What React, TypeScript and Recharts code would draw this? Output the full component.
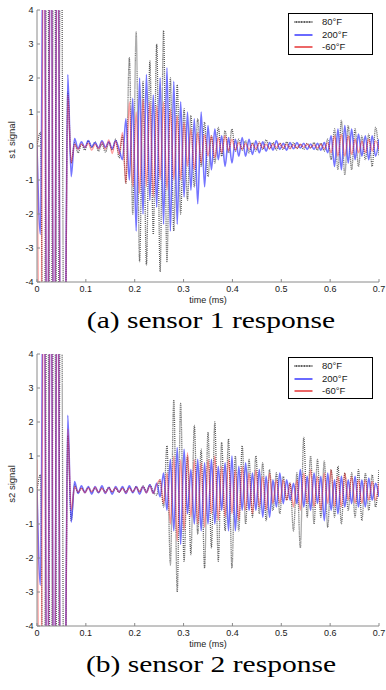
import React from 'react';
import { LineChart, Line, XAxis, YAxis, Legend, Label } from 'recharts';

// time axis (ms), one sample per half cycle
const TIME = [
  0, 0.007, 0.014, 0.021, 0.028, 0.035, 0.042, 0.049, 0.056, 0.063,
  0.07, 0.077, 0.084, 0.091, 0.098, 0.105, 0.112, 0.119, 0.126, 0.133,
  0.14, 0.147, 0.154, 0.161, 0.168, 0.175, 0.182, 0.189, 0.196, 0.203,
  0.21, 0.217, 0.224, 0.231, 0.238, 0.245, 0.252, 0.259, 0.266, 0.273,
  0.28, 0.287, 0.294, 0.301, 0.308, 0.315, 0.322, 0.329, 0.336, 0.343,
  0.35, 0.357, 0.364, 0.371, 0.378, 0.385, 0.392, 0.399, 0.406, 0.413,
  0.42, 0.427, 0.434, 0.441, 0.448, 0.455, 0.462, 0.469, 0.476, 0.483,
  0.49, 0.497, 0.504, 0.511, 0.518, 0.525, 0.532, 0.539, 0.546, 0.553,
  0.56, 0.567, 0.574, 0.581, 0.588, 0.595, 0.602, 0.609, 0.616, 0.623,
  0.63, 0.637, 0.644, 0.651, 0.658, 0.665, 0.672, 0.679, 0.686, 0.693,
  0.7,
];

// sensor 1
const S1_80F = [
  0, 0.4, -9, 9, -9, 9, -9, 9, -9, 1.6,
  -0.5, 0.1, -0.2, 0.05, -0.12, 0.15, -0.05, 0.12, -0.15, 0.06,
  -0.18, 0.1, -0.12, 0.2, -0.35, 0.3, -1.1, 2.6, -2.0, 3.35,
  -3.4, 1.9, -3.5, 2.5, -2.6, 3.0, -3.7, 3.4, -3.4, 2.0,
  -2.5, 1.8, -2.0, 1.1, -1.6, 0.9, -1.2, 0.8, -0.6, 0.7,
  -0.9, 0.3, -0.5, 0.55, -0.3, 0.45, -0.2, 0.5, -0.15, 0.2,
  -0.12, 0.15, -0.2, 0.1, -0.15, 0.12, -0.1, 0.18, -0.08, 0.1,
  -0.12, 0.08, -0.1, 0.12, -0.06, 0.1, -0.08, 0.05, -0.1, 0.08,
  -0.06, 0.1, -0.12, 0.08, -0.15, 0.2, -0.4, 0.5, -0.7, 0.75,
  -0.85, 0.6, -0.7, 0.5, -0.6, 0.3, -0.4, 0.35, -0.6, 0.55,
  -0.3,
];
const S1_200F = [
  0, -2.6, 9, -9, 9, -9, 9, -9, -9, 2.1,
  -0.9, 0.22, -0.08, 0.12, -0.05, 0.16, -0.02, 0.1, -0.06, 0.15,
  -0.04, 0.12, -0.08, 0.16, -0.1, -0.4, 0.8, -1.0, 1.4, -2.5,
  2.0, -2.0, 2.1, -1.6, 1.5, -1.8, 2.0, -2.3, 2.3, -2.5,
  1.9, -2.3, 1.3, -1.5, 1.0, -1.3, 0.8, -1.7, 1.0, -1.2,
  0.6, -0.7, 0.5, -0.4, 0.3, -0.6, 0.25, -0.5, 0.2, -0.3,
  0.25, -0.3, 0.2, -0.25, 0.15, -0.2, 0.12, -0.15, 0.1, -0.12,
  0.15, -0.1, 0.08, -0.12, 0.1, -0.08, 0.1, -0.06, 0.08, -0.1,
  0.06, -0.1, 0.08, -0.12, 0.1, -0.2, 0.3, -0.6, 0.5, -0.7,
  0.6, -0.5, 0.5, -0.4, 0.35, -0.3, 0.3, -0.4, 0.3, -0.3,
  0.2,
];
const S1_M60F = [
  0.9, -9, 9, -9, 9, -9, 9, -9, -9, 1.5,
  -0.5, 0.05, -0.1, 0.06, -0.04, 0.08, -0.12, 0.05, -0.08, 0.12,
  -0.1, 0.18, -0.22, 0.15, -0.25, 0.4, -1.1, 1.3, -1.2, 1.0,
  -1.4, 1.4, -1.2, 1.3, -1.5, 1.2, -1.0, 1.3, -1.3, 1.1,
  -1.0, 0.9, -1.0, 0.7, -0.6, 0.5, -0.7, 0.4, -0.5, 0.35,
  -0.3, 0.3, -0.35, 0.25, -0.2, 0.3, -0.15, 0.2, -0.12, 0.1,
  -0.1, 0.08, -0.1, 0.06, -0.08, 0.1, -0.06, 0.05, -0.08, 0.06,
  -0.05, 0.08, -0.06, 0.05, -0.08, 0.04, -0.06, 0.05, -0.04, 0.06,
  -0.05, 0.04, -0.06, 0.05, -0.08, 0.1, -0.2, 0.3, -0.3, 0.35,
  -0.3, 0.3, -0.25, 0.2, -0.2, 0.15, -0.2, 0.2, -0.15, 0.15,
  -0.1,
];

// sensor 2
const S2_80F = [
  0, 0.45, -9, 9, -9, 9, -9, 9, -9, 1.6,
  -0.9, 0.15, -0.08, 0.06, -0.05, 0.08, -0.06, 0.05, -0.08, 0.06,
  -0.05, 0.08, -0.06, 0.05, -0.07, 0.06, -0.05, 0.08, -0.06, 0.1,
  -0.05, 0.12, -0.04, 0.15, -0.05, -0.15, 0.3, -0.5, 1.3, -2.2,
  2.65, -3.0, 2.55, -2.1, 1.0, -1.9, 1.9, -1.3, 1.2, -2.3,
  1.7, -1.7, 2.0, -2.1, 1.4, -1.2, 1.5, -2.3, 1.0, -1.2,
  1.3, -1.0, 0.9, -0.8, 1.0, -0.7, 0.8, -0.9, 0.6, -0.6,
  0.5, -0.7, 0.4, -0.3, 0.2, -1.2, 0.5, -1.7, 1.55, -0.8,
  1.0, -1.0, 0.9, -0.8, 0.85, -1.1, 0.6, -0.8, 0.7, -1.0,
  0.5, -0.6, 0.5, -0.8, 0.6, -0.9, 0.5, -0.6, 0.45, -0.5,
  0.6,
];
const S2_200F = [
  0, -2.8, 9, -9, 9, -9, 9, -9, -9, 2.2,
  -0.95, 0.25, -0.1, 0.12, -0.08, 0.1, -0.12, 0.1, -0.08, 0.12,
  -0.1, 0.08, -0.12, 0.1, -0.06, 0.1, -0.1, 0.12, -0.08, 0.1,
  -0.12, 0.1, -0.08, 0.15, -0.1, 0.2, -0.2, 0.5, -0.6, 0.9,
  -1.2, 1.25, -1.6, 1.2, -0.7, 0.6, -1.0, 0.9, -1.2, 0.8,
  -1.0, 0.9, -1.0, 0.7, -0.6, 0.8, -1.2, 1.0, -1.2, 0.7,
  -0.6, 0.8, -0.6, 0.5, -0.6, 0.6, -0.8, 0.4, -0.8, 0.3,
  -0.5, 0.5, -0.4, 0.3, -0.3, 0.2, -0.4, 0.6, -0.5, 0.4,
  -0.6, 0.5, -0.4, 0.4, -0.9, 0.5, -0.6, 0.3, -0.7, 0.4,
  -0.5, 0.3, -0.4, 0.4, -0.5, 0.3, -0.5, 0.35, -0.3, 0.2,
  -0.2,
];
const S2_M60F = [
  0.9, -9, 9, -9, 9, -9, 9, -9, -9, 1.8,
  -0.6, 0.1, -0.06, 0.05, -0.08, 0.06, -0.05, 0.08, -0.06, 0.05,
  -0.08, 0.06, -0.05, 0.07, -0.06, 0.05, -0.08, 0.06, -0.05, 0.08,
  -0.06, 0.1, -0.08, 0.12, -0.1, 0.15, 0.3, -0.4, 0.5, -1.0,
  1.0, -1.5, 0.9, -1.2, 1.1, -0.8, 0.9, -1.0, 0.8, -1.1,
  0.9, -0.7, 1.0, -0.9, 0.7, -0.8, 0.9, -0.7, 0.6, -0.9,
  0.7, -0.6, 0.5, -0.7, 0.6, -0.5, 0.4, -0.6, 0.5, -0.4,
  0.3, -0.4, 0.3, -0.3, 0.2, -0.5, 0.3, -0.6, 0.5, -0.4,
  0.6, -0.5, 0.4, -0.6, 0.5, -0.4, 0.6, -0.5, 0.4, -0.5,
  0.5, -0.3, 0.4, -0.4, 0.3, -0.4, 0.3, -0.3, 0.25, -0.3,
  0.2,
];

const X_TICKS = [0, 0.1, 0.2, 0.3, 0.4, 0.5, 0.6, 0.7];
const Y_TICKS = [-4, -3, -2, -1, 0, 1, 2, 3, 4];
const SERIES_NAMES = ['80°F', '200°F', '-60°F'];

const AXIS_GRAY = '#8a8a8a';
const TEXT = '#1a1a1a';
const SANS = '"Liberation Sans", Arial, Helvetica, sans-serif';

const LINE_STYLES = [
  { stroke: '#333', strokeWidth: 1.3, strokeDasharray: '1 1', strokeOpacity: 0.8 },
  { stroke: '#3b3bff', strokeWidth: 1.6, strokeOpacity: 0.7 },
  { stroke: '#ff2020', strokeWidth: 1.4, strokeOpacity: 0.42 },
];
const LEGEND_STYLES = [
  { stroke: '#111', strokeWidth: 1.5, strokeDasharray: '1 0.6' },
  { stroke: '#6a6aff', strokeWidth: 2 },
  { stroke: '#e00000', strokeWidth: 1.2 },
];

const buildRows = (a: number[], b: number[], c: number[]) =>
  TIME.map((t, i) => ({ t, f80: a[i], f200: b[i], fm60: c[i] }));

const LegendBox = () => (
  <div
    style={{
      width: 85,
      height: 42,
      border: '1.5px solid #000',
      background: '#fff',
      boxSizing: 'border-box',
      paddingTop: 2,
      fontFamily: SANS,
      fontSize: 9.5,
      color: TEXT,
    }}
  >
    {SERIES_NAMES.map((name, i) => (
      <div key={name} style={{ display: 'flex', alignItems: 'center', height: 12.5 }}>
        <svg width={29} height={6}>
          <line x1={5.5} x2={23.5} y1={3} y2={3} {...LEGEND_STYLES[i]} />
        </svg>
        <span style={{ marginLeft: 4, lineHeight: '12px' }}>{name}</span>
      </div>
    ))}
  </div>
);

interface PanelProps {
  rows: { t: number; f80: number; f200: number; fm60: number }[];
  yLabel: string;
  caption: string;
  top: number;
}

const Panel = ({ rows, yLabel, caption, top }: PanelProps) => (
  <>
    <div style={{ position: 'absolute', left: 0, top }}>
      <LineChart
        width={386}
        height={312}
        data={rows}
        margin={{ top: 10, right: 7, left: 7, bottom: 0 }}
        style={{ fontFamily: SANS }}
      >
        <XAxis
          dataKey="t"
          type="number"
          domain={[0, 0.7]}
          ticks={X_TICKS}
          interval={0}
          allowDataOverflow
          height={30}
          tickSize={-3}
          tickMargin={7}
          stroke={AXIS_GRAY}
          tick={{ fill: TEXT, fontSize: 9 }}
        >
          <Label value="time (ms)" position="center" dy={3} fill={TEXT} fontSize={9} />
        </XAxis>
        <XAxis
          xAxisId="top"
          orientation="top"
          dataKey="t"
          type="number"
          domain={[0, 0.7]}
          ticks={X_TICKS}
          interval={0}
          allowDataOverflow
          height={0}
          tickSize={-3}
          tick={false}
          stroke={AXIS_GRAY}
        />
        <YAxis
          type="number"
          domain={[-4, 4]}
          ticks={Y_TICKS}
          interval={0}
          allowDataOverflow
          width={30}
          tickSize={-3}
          tickMargin={6.5}
          stroke={AXIS_GRAY}
          tick={{ fill: TEXT, fontSize: 9 }}
        >
          <Label value={yLabel} angle={-90} position="center" dx={-10} dy={-6} fill={TEXT} fontSize={9.5} />
        </YAxis>
        <YAxis
          yAxisId="right"
          orientation="right"
          type="number"
          domain={[-4, 4]}
          ticks={Y_TICKS}
          interval={0}
          allowDataOverflow
          width={0}
          tickSize={-3}
          tick={false}
          stroke={AXIS_GRAY}
        />

        <Line type="monotone" dataKey="f80" name={SERIES_NAMES[0]} dot={false} activeDot={false} isAnimationActive={false} {...LINE_STYLES[0]} />
        <Line type="monotone" dataKey="f200" name={SERIES_NAMES[1]} dot={false} activeDot={false} isAnimationActive={false} {...LINE_STYLES[1]} />
        <Line type="monotone" dataKey="fm60" name={SERIES_NAMES[2]} dot={false} activeDot={false} isAnimationActive={false} {...LINE_STYLES[2]} />

        <Legend
          layout="horizontal"
          verticalAlign="middle"
          align="center"
          content={() => <LegendBox />}
          wrapperStyle={{ position: 'absolute', top: 13, left: 288, width: 85, height: 42 }}
        />
      </LineChart>
    </div>
    <div
      style={{
        position: 'absolute',
        left: 18,
        top: top + 307.5,
        width: 386,
        textAlign: 'center',
        fontFamily: "'Liberation Serif', 'Times New Roman', serif",
        fontSize: 24,
        lineHeight: '24px',
        color: '#000',
        whiteSpace: 'nowrap',
        transform: 'scaleX(1.23)',
        transformOrigin: 'center',
      }}
    >
      {caption}
    </div>
  </>
);

export default function App() {
  const rows1 = buildRows(S1_80F, S1_200F, S1_M60F);
  const rows2 = buildRows(S2_80F, S2_200F, S2_M60F);
  return (
    <div style={{ position: 'absolute', left: 0, top: 0, width: 386, height: 690, background: '#fff', overflow: 'hidden' }}>
      <Panel rows={rows1} yLabel="s1 signal" caption="(a) sensor 1 response" top={0} />
      <Panel rows={rows2} yLabel="s2 signal" caption="(b) sensor 2 response" top={344} />
    </div>
  );
}
